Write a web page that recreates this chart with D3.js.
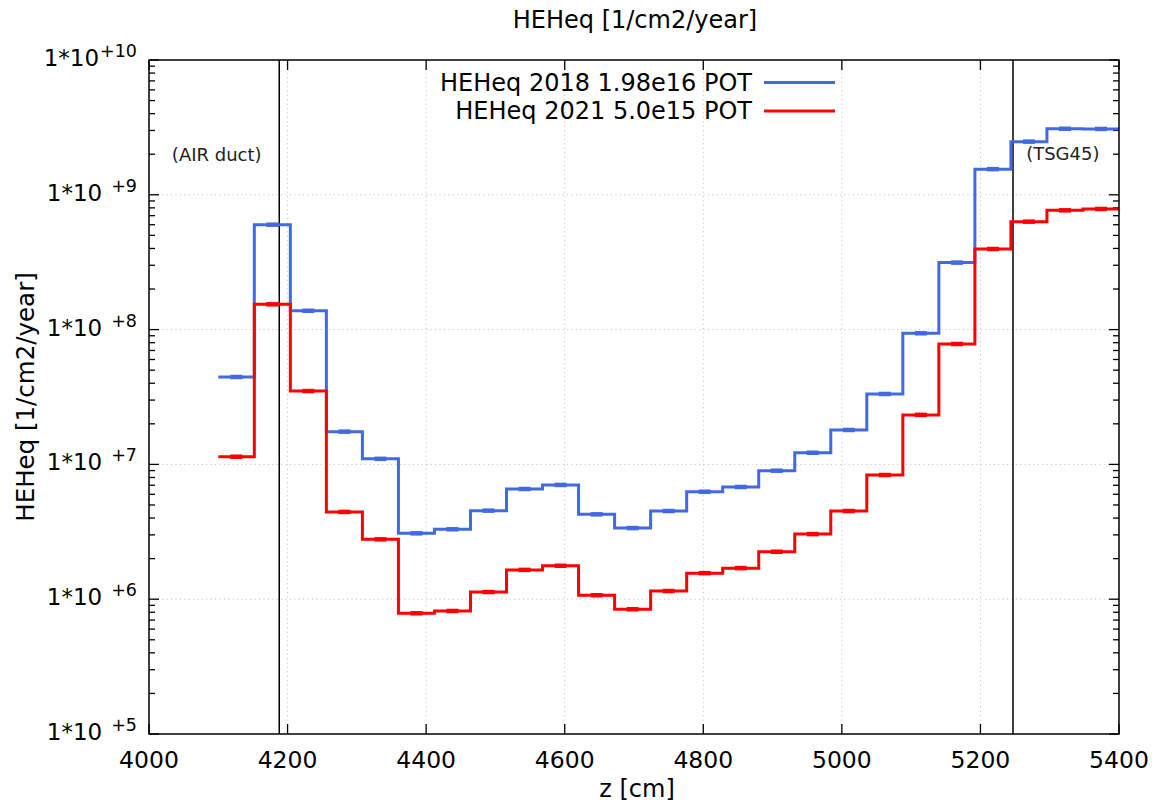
<!DOCTYPE html>
<html>
<head>
<meta charset="utf-8">
<script src="https://cdn.jsdelivr.net/npm/d3@7"></script>
<style>
  body { margin: 0; background: #fff; }
  svg { display: block; font-family: "DejaVu Sans", sans-serif; }
</style>
</head>
<body>
<svg id="chart" width="1155" height="806"></svg>
<script>
// ---------- data ----------
const binStart = 4100;
const binWidth = 52;
const series2018 = [4.45e7, 6.0e8, 1.38e8, 1.75e7, 1.10e7, 3.08e6, 3.30e6, 4.54e6, 6.57e6, 7.04e6,
                    4.26e6, 3.37e6, 4.51e6, 6.27e6, 6.80e6, 8.98e6, 1.22e7, 1.80e7, 3.33e7, 9.39e7,
                    3.14e8, 1.55e9, 2.48e9, 3.09e9, 3.08e9];
const series2021 = [1.14e7, 1.54e8, 3.50e7, 4.44e6, 2.78e6, 7.86e5, 8.18e5, 1.13e6, 1.65e6, 1.77e6,
                    1.07e6, 8.42e5, 1.15e6, 1.56e6, 1.70e6, 2.25e6, 3.04e6, 4.51e6, 8.34e6, 2.33e7,
                    7.82e7, 3.96e8, 6.32e8, 7.67e8, 7.85e8];
const seriesNames = ["HEHeq 2018 1.98e16 POT", "HEHeq 2021 5.0e15 POT"];
const seriesColors = ["#4169e1", "#ff0000"];
const xTicks = [4000, 4200, 4400, 4600, 4800, 5000, 5200, 5400];
const yExponents = [5, 6, 7, 8, 9, 10];
const markerLines = [4188, 5247];
const annotations = [{text: "(AIR duct)", x: 4033, y: 1.78e9}, {text: "(TSG45)", x: 5266, y: 1.8e9}];
const title = "HEHeq [1/cm2/year]";
const xLabel = "z [cm]";
const yLabel = "HEHeq [1/cm2/year]";

// ---------- layout ----------
const W = 1155, H = 806;
const m = {left: 149, right: 36, top: 60, bottom: 72};
const svg = d3.select("#chart");
const x = d3.scaleLinear().domain([4000, 5400]).range([m.left, W - m.right]);
const y = d3.scaleLog().domain([1e5, 1e10]).range([H - m.bottom, m.top]);
const x0 = m.left, x1 = W - m.right, y0 = H - m.bottom, y1 = m.top;

// grid
const grid = svg.append("g").attr("stroke", "#c4c4c4").attr("stroke-width", 1).attr("stroke-dasharray", "1.2,3.2");
xTicks.filter(t => t > 4000 && t < 5400).forEach(t => {
  grid.append("line").attr("x1", x(t)).attr("x2", x(t)).attr("y1", y0).attr("y2", y1);
});
yExponents.filter(e => e > 5 && e < 10).forEach(e => {
  grid.append("line").attr("x1", x0).attr("x2", x1).attr("y1", y(Math.pow(10, e))).attr("y2", y(Math.pow(10, e)));
});

// axes ticks (inward, both sides)
const ticks = svg.append("g").attr("stroke", "#000").attr("stroke-width", 1.3);
xTicks.forEach(t => {
  ticks.append("line").attr("x1", x(t)).attr("x2", x(t)).attr("y1", y0).attr("y2", y0 - 10);
  ticks.append("line").attr("x1", x(t)).attr("x2", x(t)).attr("y1", y1).attr("y2", y1 + 10);
});
yExponents.forEach(e => {
  const v = Math.pow(10, e);
  ticks.append("line").attr("x1", x0).attr("x2", x0 + 10).attr("y1", y(v)).attr("y2", y(v));
  ticks.append("line").attr("x1", x1).attr("x2", x1 - 10).attr("y1", y(v)).attr("y2", y(v));
  if (e < 10) {
    for (let k = 2; k <= 9; k++) {
      const vv = k * v;
      ticks.append("line").attr("x1", x0).attr("x2", x0 + 6).attr("y1", y(vv)).attr("y2", y(vv));
      ticks.append("line").attr("x1", x1).attr("x2", x1 - 6).attr("y1", y(vv)).attr("y2", y(vv));
    }
  }
});

// tick labels
const xl = svg.append("g").attr("font-size", 23.5).attr("fill", "#000").attr("text-anchor", "middle");
xTicks.forEach(t => xl.append("text").attr("x", x(t)).attr("y", y0 + 34).text(t));

const yl = svg.append("g").attr("font-size", 23).attr("fill", "#000").attr("text-anchor", "end");
yExponents.forEach(e => {
  const txt = yl.append("text").attr("x", 137).attr("y", y(Math.pow(10, e)) + 6);
  txt.append("tspan").text("1*10");
  txt.append("tspan").attr("font-size", 17.5).attr("dy", -9).attr("dx", e >= 10 ? 1 : 9).text("+" + e);
});

// marker vertical lines
markerLines.forEach(z => {
  svg.append("line").attr("x1", x(z)).attr("x2", x(z)).attr("y1", y0).attr("y2", y1)
    .attr("stroke", "#000").attr("stroke-width", 1.5);
});

// annotations
annotations.forEach(a => {
  svg.append("text").attr("x", x(a.x)).attr("y", y(a.y)).attr("font-size", 18).attr("fill", "#222").text(a.text);
});

// step histograms
function stepPath(vals) {
  const p = d3.path();
  vals.forEach((v, i) => {
    const xa = x(binStart + i * binWidth), xb = x(binStart + (i + 1) * binWidth);
    if (i === 0) p.moveTo(xa, y(v)); else p.lineTo(xa, y(v));
    p.lineTo(xb, y(v));
  });
  return p.toString();
}
[series2018, series2021].forEach((vals, si) => {
  const g = svg.append("g");
  g.append("path").attr("d", stepPath(vals)).attr("fill", "none")
    .attr("stroke", seriesColors[si]).attr("stroke-width", 3).attr("stroke-linejoin", "miter");
  vals.forEach((v, i) => {
    const xc = x(binStart + (i + 0.5) * binWidth);
    g.append("line").attr("x1", xc - 6).attr("x2", xc + 6).attr("y1", y(v)).attr("y2", y(v))
      .attr("stroke", seriesColors[si]).attr("stroke-width", 4.5);
  });
});

// frame
svg.append("rect").attr("x", x0).attr("y", y1).attr("width", x1 - x0).attr("height", y0 - y1)
  .attr("fill", "none").attr("stroke", "#000").attr("stroke-width", 1.5);

// legend
const lg = svg.append("g");
seriesNames.forEach((n, i) => {
  const ly = 82.5 + i * 28.4;
  lg.append("text").attr("x", 752).attr("y", ly + 8).attr("font-size", 24).attr("text-anchor", "end").attr("fill", "#000").text(n);
  lg.append("line").attr("x1", 764).attr("x2", 835).attr("y1", ly).attr("y2", ly)
    .attr("stroke", seriesColors[i]).attr("stroke-width", 3);
});

// titles
svg.append("text").attr("x", 635).attr("y", 28).attr("font-size", 24).attr("text-anchor", "middle").text(title);
svg.append("text").attr("x", 637).attr("y", 797).attr("font-size", 24).attr("text-anchor", "middle").text(xLabel);
svg.append("text").attr("transform", `translate(34,${(y0 + y1) / 2}) rotate(-90)`).attr("font-size", 24.5)
  .attr("text-anchor", "middle").text(yLabel);
</script>
</body>
</html>
